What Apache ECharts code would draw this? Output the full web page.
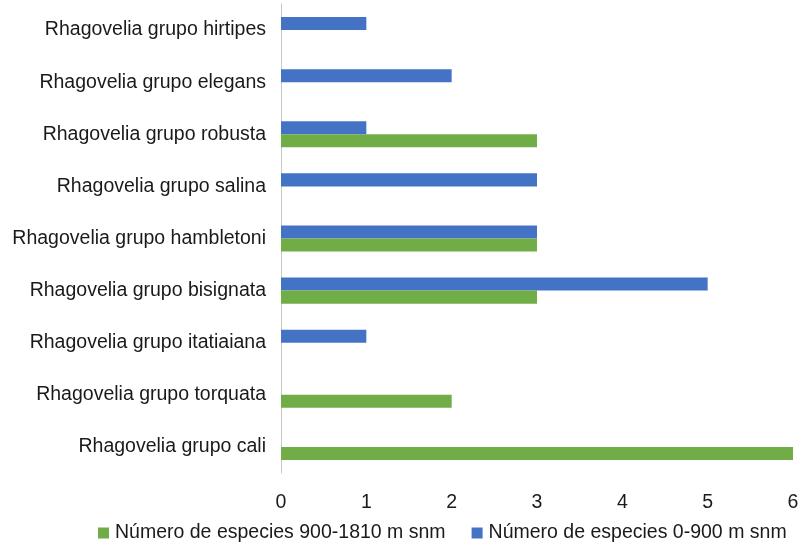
<!DOCTYPE html>
<html><head><meta charset="utf-8">
<script src="https://cdn.jsdelivr.net/npm/echarts@6/dist/echarts.min.js"></script>
<style>html,body{margin:0;padding:0;background:#fff}#c{width:806px;height:545px}</style>
</head><body><div id="c"></div>
<script>
const categories = ["Rhagovelia grupo cali","Rhagovelia grupo torquata","Rhagovelia grupo itatiaiana","Rhagovelia grupo bisignata","Rhagovelia grupo hambletoni","Rhagovelia grupo salina","Rhagovelia grupo robusta","Rhagovelia grupo elegans","Rhagovelia grupo hirtipes"];
const highSeries = [6,2,0,3,3,0,3,0,0];
const lowSeries = [0,0,1,5,3,3,1,2,1];
const seriesNames = ["Número de especies 900-1810 m snm","Número de especies 0-900 m snm"];
const xTicks = [0,1,2,3,4,5,6];
const chart = echarts.init(document.getElementById('c'));
const font = 'Liberation Sans, Arial, sans-serif';
chart.setOption({
  animation:false,
  textStyle:{fontFamily:font},
  grid:{left:281,right:13,top:4,bottom:72},
  legend:{top:523,left:98,padding:0,itemWidth:11,itemHeight:11,itemGap:26,icon:'rect',
    textStyle:{fontSize:19.5,color:'#1a1a1a',fontFamily:font,padding:[0,0,0,1]},data:seriesNames},
  xAxis:{type:'value',min:xTicks[0],max:xTicks[xTicks.length-1],interval:1,
    axisLine:{show:false},axisTick:{show:false},splitLine:{show:false},
    axisLabel:{fontSize:19.5,color:'#1a1a1a',margin:20,fontFamily:font}},
  yAxis:{type:'category',data:categories,
    axisLine:{show:true,lineStyle:{color:'#c8c8c8',width:1}},axisTick:{show:false},
    axisLabel:{fontSize:19.5,color:'#1a1a1a',margin:15,fontFamily:font}},
  series:[
    {name:seriesNames[1],type:'bar',data:lowSeries,itemStyle:{color:'#4472C4'},barGap:'0%',barCategoryGap:'50%'},
    {name:seriesNames[0],type:'bar',data:highSeries,itemStyle:{color:'#70AD47'},barGap:'0%',barCategoryGap:'50%'}
  ]
});
</script></body></html>
